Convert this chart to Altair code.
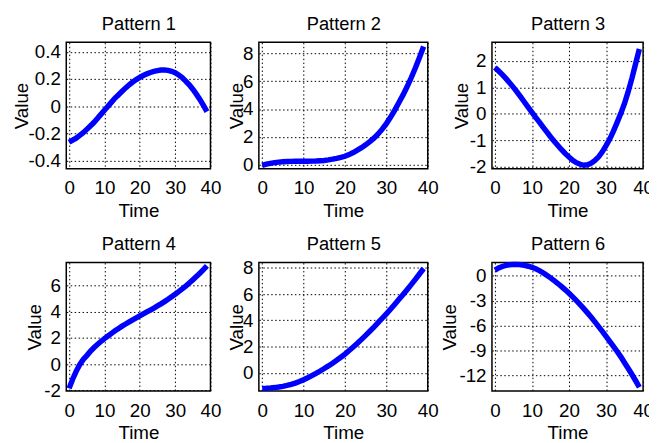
import altair as alt
import pandas as pd

TIME = [0, 1, 2, 3, 4, 5, 6, 7, 8, 9, 10, 11, 12, 13, 14, 15, 16, 17, 18, 19,
        20, 21, 22, 23, 24, 25, 26, 27, 28, 29, 30, 31, 32, 33, 34, 35, 36, 37, 38, 39]

PATTERN_1 = [-0.265, -0.25, -0.235, -0.215, -0.195, -0.17, -0.145, -0.12, -0.09, -0.06,
             -0.03, 0.0, 0.03, 0.06, 0.085, 0.11, 0.135, 0.158, 0.178, 0.196,
             0.212, 0.226, 0.238, 0.248, 0.256, 0.262, 0.266, 0.267, 0.264, 0.257,
             0.246, 0.23, 0.21, 0.185, 0.157, 0.125, 0.089, 0.05, 0.007, -0.04]
PATTERN_2 = [-0.05, 0.03, 0.09, 0.14, 0.18, 0.2, 0.22, 0.23, 0.235, 0.24,
             0.24, 0.245, 0.25, 0.26, 0.28, 0.3, 0.34, 0.39, 0.45, 0.52,
             0.6, 0.72, 0.87, 1.04, 1.22, 1.42, 1.65, 1.9, 2.2, 2.55,
             2.95, 3.4, 3.9, 4.45, 5.0, 5.6, 6.25, 6.95, 7.7, 8.5]
PATTERN_3 = [1.75, 1.62, 1.48, 1.33, 1.17, 1.0, 0.82, 0.63, 0.44, 0.25,
             0.06, -0.13, -0.31, -0.5, -0.68, -0.86, -1.03, -1.19, -1.35, -1.5,
             -1.63, -1.75, -1.84, -1.9, -1.94, -1.92, -1.86, -1.76, -1.62, -1.43,
             -1.2, -0.95, -0.65, -0.32, 0.02, 0.4, 0.85, 1.35, 1.9, 2.45]
PATTERN_4 = [-1.85, -1.15, -0.55, -0.05, 0.35, 0.65, 0.97, 1.25, 1.5, 1.73,
             1.95, 2.15, 2.35, 2.54, 2.72, 2.9, 3.06, 3.22, 3.38, 3.53,
             3.68, 3.83, 3.98, 4.13, 4.28, 4.44, 4.6, 4.77, 4.95, 5.14,
             5.33, 5.53, 5.74, 5.96, 6.19, 6.43, 6.68, 6.94, 7.21, 7.5]
PATTERN_5 = [-1.18, -1.17, -1.15, -1.12, -1.08, -1.03, -0.96, -0.88, -0.78, -0.66,
             -0.52, -0.37, -0.21, -0.04, 0.14, 0.33, 0.53, 0.74, 0.96, 1.19,
             1.43, 1.7, 1.97, 2.25, 2.55, 2.86, 3.17, 3.49, 3.82, 4.16,
             4.5, 4.85, 5.21, 5.58, 5.95, 6.33, 6.72, 7.12, 7.53, 7.95]
PATTERN_6 = [0.7, 0.95, 1.13, 1.26, 1.34, 1.38, 1.38, 1.34, 1.26, 1.16,
             1.03, 0.86, 0.64, 0.38, 0.07, -0.24, -0.57, -0.92, -1.29, -1.68,
             -2.09, -2.53, -2.98, -3.45, -3.94, -4.45, -4.98, -5.53, -6.1, -6.68,
             -7.27, -7.87, -8.48, -9.1, -9.74, -10.45, -11.15, -11.87, -12.62, -13.4]

SERIES = [PATTERN_1, PATTERN_2, PATTERN_3, PATTERN_4, PATTERN_5, PATTERN_6]
TITLES = ["Pattern 1", "Pattern 2", "Pattern 3", "Pattern 4", "Pattern 5", "Pattern 6"]
X_TICKS = [0, 10, 20, 30, 40]
Y_TICKS = [
    [-0.4, -0.2, 0, 0.2, 0.4],
    [0, 2, 4, 6, 8],
    [-2, -1, 0, 1, 2],
    [-2, 0, 2, 4, 6],
    [0, 2, 4, 6, 8],
    [-12, -9, -6, -3, 0],
]
Y_DOMAINS = [
    [-0.46, 0.47],
    [-0.3, 8.8],
    [-2.07, 2.7],
    [-2.05, 7.75],
    [-1.38, 8.4],
    [-13.85, 1.6],
]
X_DOMAIN = [-0.8, 40]

COL_WIDTHS = [146, 171, 153]
GAP_WIDTHS = [49, 65]
ROW_HEIGHTS = [128, 130]
Y_TITLE_PAD = [-3, -3.5, -2.5, -0.5, -3.5, -1]

FONT = "Liberation Sans"
LABEL_EXPR = "(datum.value < 0 ? '-' : '') + format(abs(datum.value), '~g')"


def panel(i):
    w = COL_WIDTHS[i % 3]
    h = ROW_HEIGHTS[i // 3]
    df = pd.DataFrame({"Time": TIME, "Value": SERIES[i]})
    x_scale = alt.Scale(domain=X_DOMAIN, nice=False, zero=False)
    base = alt.Chart(df).encode(
        y=alt.Y("Value:Q",
                scale=alt.Scale(domain=Y_DOMAINS[i], nice=False, zero=False),
                axis=alt.Axis(values=Y_TICKS[i], title="Value",
                              titlePadding=Y_TITLE_PAD[i],
                              labelExpr=LABEL_EXPR)),
    )
    line = base.mark_line(color="#0000FF", strokeWidth=5.5).encode(
        x=alt.X("Time:Q", scale=x_scale,
                axis=alt.Axis(values=X_TICKS, title="Time", titlePadding=3.5,
                              labelExpr=LABEL_EXPR)),
    )
    head = base.mark_line(strokeOpacity=0).encode(
        x=alt.X("Time:Q", scale=x_scale,
                axis=alt.Axis(orient="top", labels=False, grid=False, ticks=False,
                              domain=False, title=TITLES[i], titleFontSize=18.5,
                              titleBaseline="alphabetic", titlePadding=13)),
    )
    return alt.layer(line, head).resolve_axis(x="independent").properties(width=w, height=h)


def spacer(w, h):
    df = pd.DataFrame({"s": [0]})
    return alt.Chart(df).mark_point(opacity=0).encode(
        x=alt.value(0), y=alt.value(0)
    ).properties(width=w, height=h, view=alt.ViewBackground(strokeOpacity=0))


cells = []
for r in range(2):
    for c in range(3):
        cells.append(panel(r * 3 + c))
        if c < 2:
            cells.append(spacer(GAP_WIDTHS[c], ROW_HEIGHTS[r]))

chart = alt.concat(
    *cells, columns=5, spacing={"row": 95, "column": 0}, bounds="flush", align="each"
).properties(
    autosize=alt.AutoSizeParams(type="none"),
    padding={"left": 59, "top": 32, "right": 590, "bottom": 411},
    background="white",
).configure_axis(
    domain=False, ticks=False, tickSize=0, grid=True, gridColor="black",
    gridDash=[1.5, 2.5], gridOpacity=1, gridWidth=1,
    labelFont=FONT, labelFontSize=19, labelColor="black",
    titleFont=FONT, titleFontSize=19, titleFontWeight="normal", titleColor="black",
    labelOverlap=False, labelBound=False,
).configure_axisX(
    labelPadding=10.5, labelFlush=False,
).configure_axisY(
    labelPadding=6,
).configure_view(
    stroke="black", strokeWidth=1.5,
)

chart.save("out.html", embed_options={"renderer": "svg", "actions": False})
